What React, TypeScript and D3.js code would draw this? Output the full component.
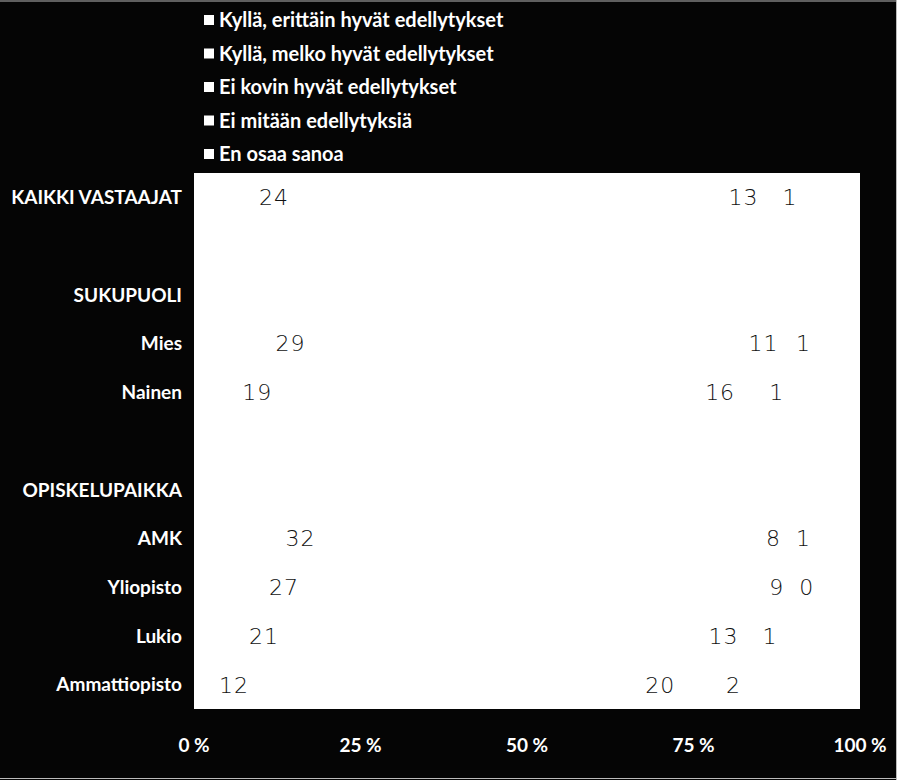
import React from "react";
import * as d3 from "d3";

const categories = [
  "KAIKKI VASTAAJAT",
  "",
  "SUKUPUOLI",
  "Mies",
  "Nainen",
  "",
  "OPISKELUPAIKKA",
  "AMK",
  "Yliopisto",
  "Lukio",
  "Ammattiopisto",
];

const seriesNames = [
  "Kyllä, erittäin hyvät edellytykset",
  "Kyllä, melko hyvät edellytykset",
  "Ei kovin hyvät edellytykset",
  "Ei mitään edellytyksiä",
  "En osaa sanoa",
];

const erittain = [24, null, null, 29, 19, null, null, 32, 27, 21, 12];
const melko = [52, null, null, 51, 52, null, null, 51, 56, 52, 48];
const eiKovin = [13, null, null, 11, 16, null, null, 8, 9, 13, 20];
const eiMitaan = [1, null, null, 1, 1, null, null, 1, 0, 1, 2];
const enOsaa = [10, null, null, 8, 12, null, null, 8, 8, 13, 18];

const seriesValues = [erittain, melko, eiKovin, eiMitaan, enOsaa];
const labelShown = [true, false, true, true, false];

const tickValues = [0, 25, 50, 75, 100];
const tickLabels = ["0 %", "25 %", "50 %", "75 %", "100 %"];

const W = 897;
const H = 780;

export default function App() {
  const x = d3.scaleLinear().domain([0, 100]).range([194, 860]);
  const y = d3
    .scaleBand<number>()
    .domain(d3.range(categories.length))
    .range([173, 709])
    .paddingInner(0.4)
    .paddingOuter(0.2);

  const rows = categories.map((_, i) => {
    const obj: Record<string, number> = {};
    seriesValues.forEach((s, k) => {
      obj["s" + k] = s[i] ?? 0;
    });
    return obj;
  });
  const stack = d3.stack<Record<string, number>>().keys(seriesNames.map((_, k) => "s" + k));
  const stacked = stack(rows);

  const legendY = d3.scalePoint<number>().domain(d3.range(seriesNames.length)).range([20, 154]);

  const labelFont = "Lato, 'Open Sans', sans-serif";

  return (
    <svg
      width={W}
      height={H}
      style={{ position: "absolute", left: 0, top: 0, background: "#050505" }}
    >
      <rect x={0} y={0} width={W} height={H} fill="#050505" />
      <line x1={0} x2={W} y1={1} y2={1} stroke="#bbbbbb" strokeWidth={1} />
      <line x1={0} x2={W} y1={778.5} y2={778.5} stroke="#bbbbbb" strokeWidth={1} />
      <line x1={896.5} x2={896.5} y1={0} y2={H} stroke="#bbbbbb" strokeWidth={1} />

      {/* legend */}
      {seriesNames.map((name, k) => (
        <g key={name} transform={`translate(0,${legendY(k)})`}>
          <rect x={204} y={-5} width={10} height={10} fill="#ffffff" />
          <text
            x={219}
            y={0}
            dy="0.36em"
            fill="#ffffff"
            fontFamily={labelFont}
            fontWeight={700}
            fontSize={20}
          >
            {name}
          </text>
        </g>
      ))}

      {/* plot area */}
      <rect x={194} y={173} width={666} height={536} fill="#ffffff" />

      {/* bars */}
      {stacked.map((layer, k) => (
        <g key={layer.key}>
          {layer.map((d, i) =>
            seriesValues[k][i] == null ? null : (
              <rect
                key={i}
                x={x(d[0])}
                y={y(i)!}
                width={Math.max(0, x(d[1]) - x(d[0]))}
                height={y.bandwidth()}
                fill="#ffffff"
              />
            )
          )}
        </g>
      ))}

      {/* data labels */}
      {stacked.map((layer, k) =>
        labelShown[k] ? (
          <g key={"l" + layer.key}>
            {layer.map((d, i) =>
              seriesValues[k][i] == null ? null : (
                <text
                  key={i}
                  x={x((d[0] + d[1]) / 2)}
                  y={y(i)! + y.bandwidth() / 2}
                  dy="0.36em"
                  textAnchor="middle"
                  fill="#111111"
                  fontFamily="'DejaVu Sans', sans-serif"
                  fontWeight={200}
                  fontSize={22}
                  letterSpacing={1}
                >
                  {seriesValues[k][i]}
                </text>
              )
            )}
          </g>
        ) : null
      )}

      {/* category labels */}
      {categories.map((c, i) => (
        <text
          key={i}
          x={182}
          y={y(i)! + y.bandwidth() / 2}
          dy="0.36em"
          textAnchor="end"
          fill="#ffffff"
          fontFamily={labelFont}
          fontWeight={700}
          fontSize={19}
        >
          {c}
        </text>
      ))}

      {/* x axis labels */}
      {tickValues.map((t, i) => (
        <text
          key={t}
          x={x(t)}
          y={745}
          dy="0.36em"
          textAnchor="middle"
          fill="#ffffff"
          fontFamily={labelFont}
          fontWeight={700}
          fontSize={19}
        >
          {tickLabels[i]}
        </text>
      ))}
    </svg>
  );
}
